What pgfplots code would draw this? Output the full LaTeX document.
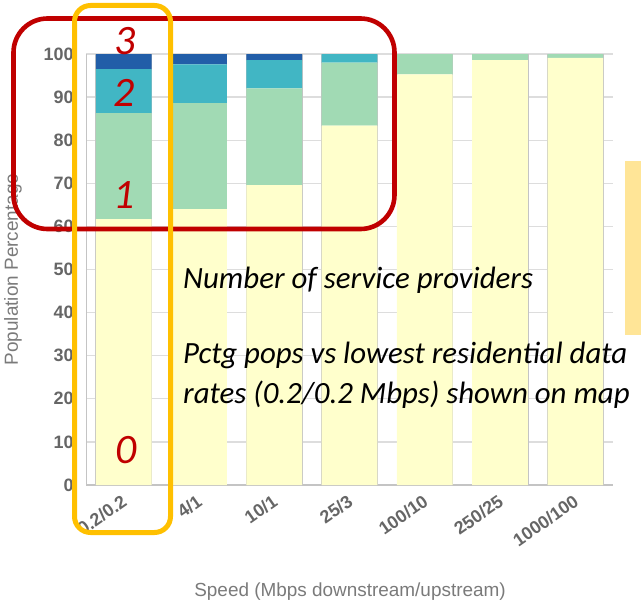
\documentclass[border=0pt]{standalone}
\usepackage{pgfplots}
\pgfplotsset{compat=1.18}
\usepackage{fontspec}
\setmainfont{Liberation Sans}
\newfontfamily\calibri{Carlito}
\definecolor{c0}{HTML}{FFFFCC}
\definecolor{c1}{HTML}{A1DAB4}
\definecolor{c2}{HTML}{41B6C4}
\definecolor{c3}{HTML}{225EA8}
\definecolor{tickgray}{HTML}{666666}
\definecolor{labgray}{HTML}{7A7A7A}
\definecolor{gridgray}{HTML}{DDDDDD}
\definecolor{edgegray}{HTML}{C4C4C4}
\definecolor{boxred}{HTML}{C00000}
\definecolor{boxorange}{HTML}{FFC000}
\definecolor{legorange}{HTML}{FFE597}
\begin{document}
\begin{tikzpicture}
\begin{scope}[x=1bp,y=-1bp]
\useasboundingbox (0,0) rectangle (641,605);
\end{scope}
\begin{axis}[
  at={(86bp,-485bp)}, anchor=south west, scale only axis,
  width=527bp, height=431bp,
  ybar stacked, bar width=0.74,
  xmin=-0.5, xmax=6.5, ymin=0, ymax=100,
  xtick={0,...,6},
  xticklabels={0.2/0.2,4/1,10/1,25/3,100/10,250/25,1000/100},
  ytick={0,10,...,100},
  ymajorgrids, major grid style={gridgray, line width=1.3pt},
  extra x ticks={-0.37,0.37,0.63,1.37,1.63,2.37,2.63,3.37,3.63,4.37,4.63,5.37,5.63,6.37},
  extra x tick labels={},
  extra x tick style={grid=major, major grid style={edgegray, line width=0.7pt}},
  axis x line=bottom, axis y line=left,
  axis line style={-, edgegray},
  x axis line style={line width=1.6pt},
  y axis line style={line width=0.8pt},
  major tick length=0, tick style={draw=none},
  /pgf/number format/assume math mode=true,
  tick label style={font=\fontsize{18}{21}\selectfont\bfseries, text=tickgray},
  yticklabel style={xshift=-9bp},
  xticklabel style={rotate=35, anchor=north east, yshift=-2bp, xshift=-4bp},
  xlabel={Speed (Mbps downstream/upstream)},
  ylabel={Population Percentage},
  label style={font=\fontsize{19}{22}\selectfont, text=labgray},
  xlabel style={at={(axis description cs:0.501,-0.248)}, anchor=center},
  ylabel style={at={(axis description cs:-0.1385,0.5)}, anchor=center},
]
\addplot[fill=c0, draw=none] coordinates {(0,61.7) (1,64.0) (2,69.6) (3,83.4) (4,95.3) (5,98.6) (6,99.1)};
\addplot[fill=c1, draw=none] coordinates {(0,24.6) (1,24.6) (2,22.4) (3,14.6) (4,4.7) (5,1.4) (6,0.9)};
\addplot[fill=c2, draw=none] coordinates {(0,10.2) (1,9.0) (2,6.6) (3,2.0) (4,0) (5,0) (6,0)};
\addplot[fill=c3, draw=none] coordinates {(0,3.5) (1,2.4) (2,1.4) (3,0) (4,0) (5,0) (6,0)};
\end{axis}
\begin{scope}[x=1bp,y=-1bp]
\fill[legorange] (625,161) rectangle (641,335);
\draw[boxred, line width=4.6bp, rounded corners=34bp] (13.5,18.5) rectangle (394.5,229);
\node[anchor=base, font=\calibri\itshape\fontsize{42}{42}\selectfont, text=boxred] at (125,55) {3};
\node[anchor=base, font=\calibri\itshape\fontsize{42}{42}\selectfont, text=boxred] at (124,107) {2};
\node[anchor=base, font=\calibri\itshape\fontsize{42}{42}\selectfont, text=boxred] at (124,208) {1};
\node[anchor=base, font=\calibri\itshape\fontsize{42}{42}\selectfont, text=boxred] at (126,463) {0};
\node[anchor=base west, inner sep=0pt, font=\calibri\itshape\fontsize{31}{31}\selectfont] at (183,288) {Number of service providers};
\node[anchor=base west, inner sep=0pt, font=\calibri\itshape\fontsize{31}{31}\selectfont] at (183,363) {Pctg pops vs lowest residential data};
\node[anchor=base west, inner sep=0pt, font=\calibri\itshape\fontsize{31}{31}\selectfont] at (183,403) {rates (0.2/0.2 Mbps) shown on map};
\draw[boxorange, line width=5bp, rounded corners=16bp] (74.5,5.5) rectangle (170.5,532.5);
\end{scope}
\end{tikzpicture}
\end{document}
